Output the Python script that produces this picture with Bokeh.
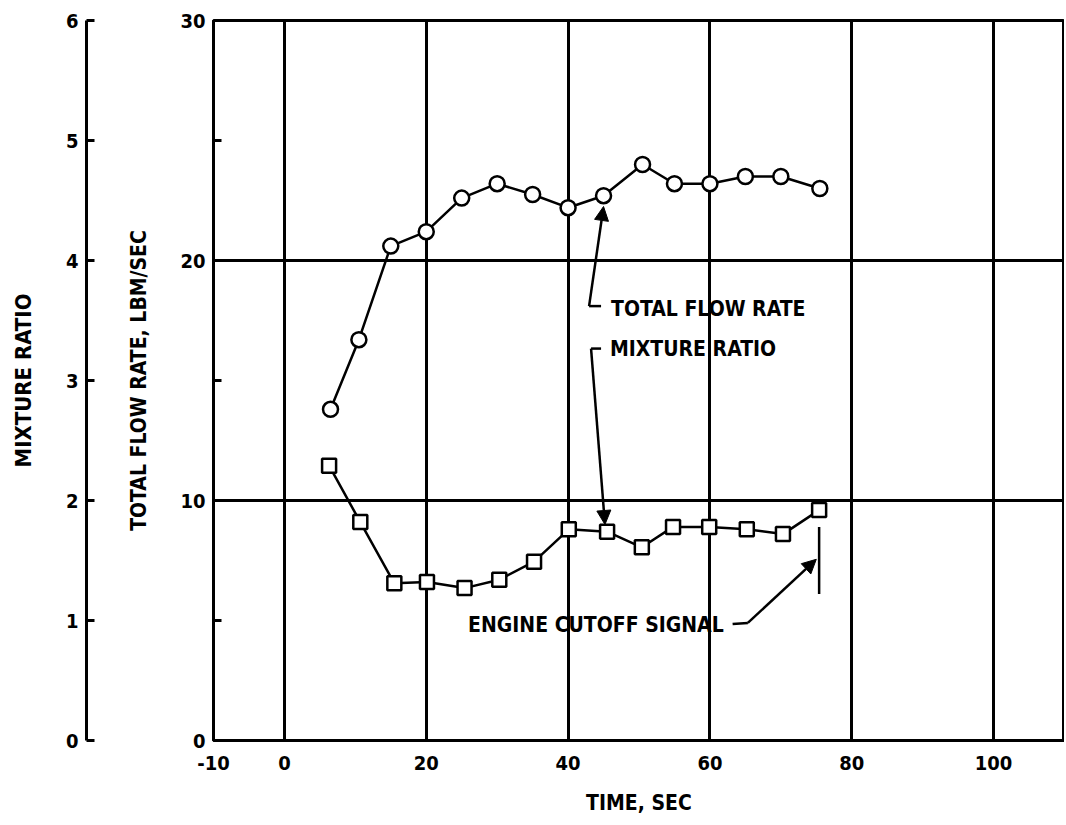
from bokeh.plotting import figure
from bokeh.models import Range1d, LinearAxis, FixedTicker, Label, Arrow, NormalHead, Title
from bokeh.embed import file_html
from bokeh.resources import INLINE

# ---- data ----
flow_time = [6.5, 10.5, 15, 20, 25, 30, 35, 40, 45, 50.5, 55, 60, 65, 70, 75.5]
flow_rate = [13.8, 16.7, 20.6, 21.2, 22.6, 23.2, 22.75, 22.2, 22.7, 24.0, 23.2, 23.2, 23.5, 23.5, 23.0]
mr_time = [6.3, 10.7, 15.5, 20.1, 25.4, 30.3, 35.2, 40.1, 45.5, 50.4, 54.8, 59.9, 65.2, 70.3, 75.4]
mixture_ratio = [2.29, 1.82, 1.31, 1.32, 1.27, 1.34, 1.49, 1.76, 1.74, 1.61, 1.78, 1.78, 1.76, 1.72, 1.92]
cutoff_time = 75.4

x_ticks = [-10, 0, 20, 40, 60, 80, 100]
x_grid = [0, 20, 40, 60, 80, 100]
flow_ticks = [0, 10, 20, 30]
flow_minor = [5, 15, 25]
flow_grid = [10, 20]
mr_ticks = [0, 1, 2, 3, 4, 5, 6]

FONT = "'DejaVu Sans Condensed', 'Liberation Sans Narrow', sans-serif"
INK = "black"

p = figure(width=1064, height=824, x_range=Range1d(-10, 110), y_range=Range1d(0, 30),
           output_backend="svg", toolbar_location=None,
           min_border_left=213, min_border_right=0, min_border_top=20, min_border_bottom=84)
p.extra_y_ranges = {"mr": Range1d(0, 6)}
MR_TO_FLOW = 30 / 6

p.outline_line_color = INK
p.outline_line_width = 3
p.background_fill_color = "white"
p.border_fill_color = "white"

# grids
p.xgrid.ticker = FixedTicker(ticks=x_grid)
p.ygrid.ticker = FixedTicker(ticks=flow_grid)
for g in (p.xgrid, p.ygrid):
    g.grid_line_color = INK
    g.grid_line_width = 3
    g.grid_line_alpha = 1.0

# x axis
xa = p.xaxis[0]
xa.ticker = FixedTicker(ticks=x_ticks)
xa.major_label_overrides = {-10: "-10"}
xa.axis_label = "TIME, SEC"
xa.major_tick_in = 0
xa.major_tick_out = 0
xa.minor_tick_in = 0
xa.minor_tick_out = 0
xa.major_label_standoff = 15
xa.axis_label_standoff = 18

# flow axis (frame left)
ya = p.yaxis[0]
ya.ticker = FixedTicker(ticks=flow_ticks, minor_ticks=flow_minor)
ya.major_tick_in = 0
ya.major_tick_out = 0
ya.minor_tick_in = 8
ya.minor_tick_out = 0
ya.major_label_standoff = 8
ya.axis_label = None

# flow axis title, placed between the two left axes
flow_title = Title(text="TOTAL FLOW RATE, LBM/SEC", align="center", vertical_align="middle",
                   standoff=51, text_font=FONT, text_font_style="bold",
                   text_font_size="21px", text_color=INK)
# blank gap before the outer mixture-ratio axis
gap = Title(text=" ", standoff=6, text_font_size="6px", text_color="white")

# mixture ratio axis (outer left)
mra = LinearAxis(y_range_name="mr", ticker=FixedTicker(ticks=mr_ticks), axis_label="MIXTURE RATIO")
mra.major_tick_in = 8
mra.major_tick_out = 0
mra.minor_tick_in = 0
mra.minor_tick_out = 0
mra.major_label_standoff = 8
mra.axis_label_standoff = 27

p.left = [ya, flow_title, gap, mra]

for ax in (xa, ya, mra):
    ax.axis_line_color = INK
    ax.axis_line_width = 3
    ax.major_tick_line_color = INK
    ax.major_tick_line_width = 3
    ax.minor_tick_line_color = INK
    ax.minor_tick_line_width = 3
    ax.major_label_text_font = FONT
    ax.major_label_text_font_style = "bold"
    ax.major_label_text_font_size = "20px"
    ax.major_label_text_color = INK
    ax.axis_label_text_font = FONT
    ax.axis_label_text_font_style = "bold"
    ax.axis_label_text_font_size = "22px"
    ax.axis_label_text_color = INK
xa.axis_label_text_font_size = "21px"
mra.major_label_orientation = "horizontal"
ya.major_label_orientation = "horizontal"

# series
p.line(flow_time, flow_rate, line_color=INK, line_width=2.5)
p.scatter(flow_time, flow_rate, marker="circle", size=15, fill_color="white",
          line_color=INK, line_width=2.5)
p.line(mr_time, mixture_ratio, y_range_name="mr", line_color=INK, line_width=2.5)
p.scatter(mr_time, mixture_ratio, y_range_name="mr", marker="square", size=14,
          fill_color="white", line_color=INK, line_width=2.5)

def head():
    return NormalHead(size=14, fill_color=INK, line_color=INK, line_width=1)

def note(text, x, y):
    p.add_layout(Label(x=x, y=y, text=text, text_align="left", text_baseline="middle",
                       text_font=FONT, text_font_style="bold", text_font_size="21px",
                       text_color=INK))

# TOTAL FLOW RATE callout
i = 8
p.line([44.65, 42.96], [18.1, 18.1], line_color=INK, line_width=2.5)
p.add_layout(Arrow(end=head(), x_start=42.96, y_start=18.1, x_end=flow_time[i], y_end=flow_rate[i] - 0.45,
                   line_color=INK, line_width=2.5))
note("TOTAL FLOW RATE", 46.05, 17.96)

# MIXTURE RATIO callout
p.line([44.65, 43.24], [16.33, 16.33], line_color=INK, line_width=2.5)
p.add_layout(Arrow(end=head(), x_start=43.24, y_start=16.33, x_end=mr_time[i] - 0.3,
                   y_end=mixture_ratio[i] * MR_TO_FLOW + 0.3, line_color=INK, line_width=2.5))
note("MIXTURE RATIO", 45.9, 16.3)

# ENGINE CUTOFF SIGNAL callout
p.line([cutoff_time, cutoff_time], [6.1, 8.9], line_color=INK, line_width=2.5)
p.line([63.2, 65.35], [4.85, 4.9], line_color=INK, line_width=2.5)
p.add_layout(Arrow(end=head(), x_start=65.35, y_start=4.9, x_end=cutoff_time - 0.4, y_end=7.55,
                   line_color=INK, line_width=2.5))
note("ENGINE CUTOFF SIGNAL", 25.9, 4.8)

open("out.html", "w").write(file_html(p, INLINE))
